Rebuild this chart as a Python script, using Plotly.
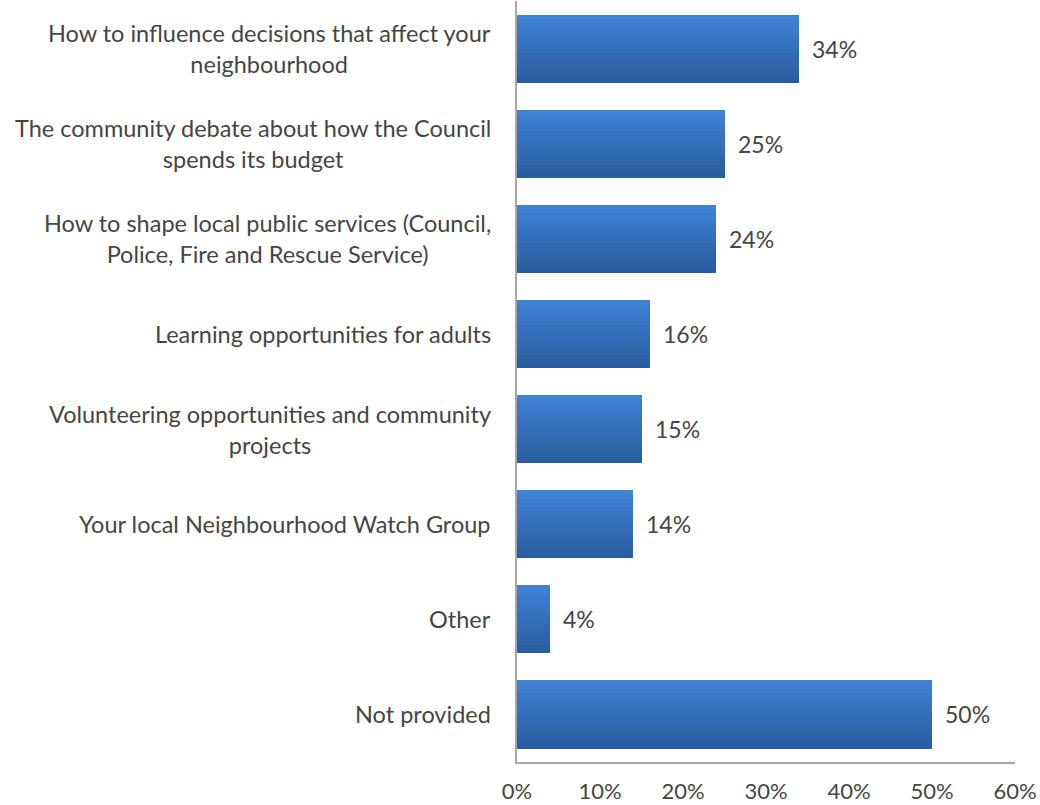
import plotly.graph_objects as go

# Survey answers, top to bottom
categories = [
    "How to influence decisions that affect your<br>neighbourhood",
    "The community debate about how the Council<br>spends its budget",
    "How to shape local public services (Council,<br>Police, Fire and Rescue Service)",
    "Learning opportunities for adults",
    "Volunteering opportunities and community<br>projects",
    "Your local Neighbourhood Watch Group",
    "Other",
    "Not provided",
]
shares = [0.34, 0.25, 0.24, 0.16, 0.15, 0.14, 0.04, 0.50]
x_ticks = [0, 0.1, 0.2, 0.3, 0.4, 0.5, 0.6]

FONT = "Lato"
TEXT = "#454545"
positions = list(range(len(categories)))

# Vertical gradient on each bar, built from thin stacked strips
BAR_W = 0.715
N_STRIPS = 16
top_rgb = (62, 130, 212)
bot_rgb = (41, 92, 160)
strip_w = BAR_W / N_STRIPS

fig = go.Figure()
for i in range(N_STRIPS):
    t = i / (N_STRIPS - 1)
    r, g, b = (round(top_rgb[k] + (bot_rgb[k] - top_rgb[k]) * t) for k in range(3))
    fig.add_trace(go.Bar(
        x=shares,
        y=positions,
        orientation="h",
        width=strip_w * 1.02,
        offset=-BAR_W / 2 + i * strip_w,
        marker=dict(color=f"rgb({r},{g},{b})", line=dict(width=0)),
        showlegend=False,
        hoverinfo="skip",
    ))

# Category names, lines centred on each other, right edge near the axis
for p, name in zip(positions, categories):
    fig.add_annotation(
        x=0, xref="paper", y=p, text=name,
        xanchor="right", yanchor="middle", align="center",
        xshift=-24, showarrow=False,
        font=dict(family=FONT, size=23.5, color=TEXT),
    )

# Value labels just right of each bar
for p, v in zip(positions, shares):
    fig.add_annotation(
        x=v, y=p, text=f"{round(v * 100)}%",
        xanchor="left", yanchor="middle", xshift=11, showarrow=False,
        font=dict(family=FONT, size=23, color=TEXT),
    )

fig.update_layout(
    width=1040, height=805,
    margin=dict(l=517, r=25, t=1, b=43),
    paper_bgcolor="white", plot_bgcolor="white",
    barmode="overlay",
    bargap=0,
    font=dict(family=FONT, size=22, color=TEXT),
    xaxis=dict(
        range=[0, 0.6], tickvals=x_ticks, tickformat=".0%",
        showgrid=False, zeroline=False, automargin=False,
        showline=True, linecolor="#a6a6a6", linewidth=1.5,
        ticks="", ticklabelstandoff=9,
        tickfont=dict(family=FONT, size=22, color=TEXT),
    ),
    yaxis=dict(
        range=[len(categories) - 0.5, -0.5],
        tickvals=positions, showticklabels=False,
        showgrid=False, zeroline=False, automargin=False,
        showline=True, linecolor="#a6a6a6", linewidth=1.5,
        ticks="",
    ),
)

fig.write_html("out.html")
